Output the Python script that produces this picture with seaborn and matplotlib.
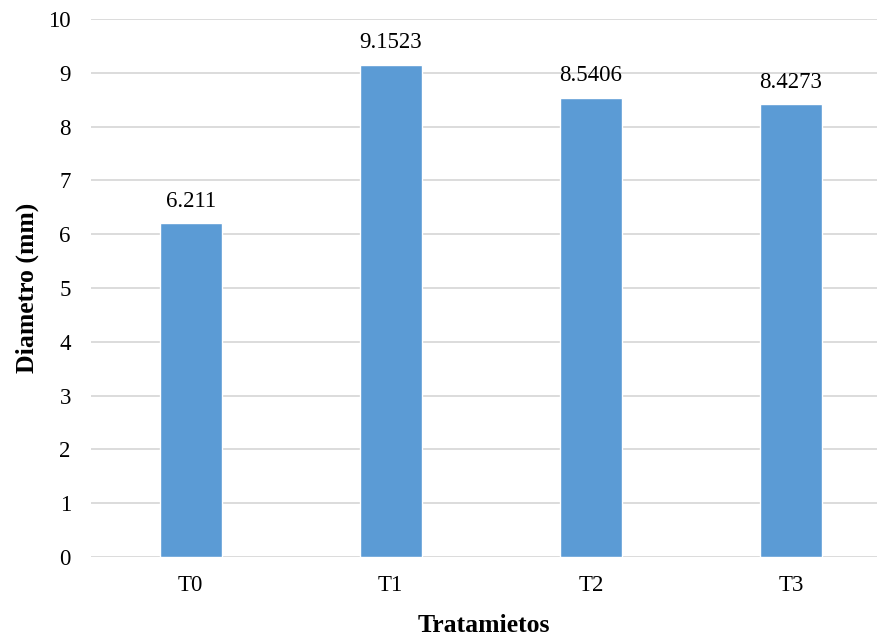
import matplotlib
matplotlib.use("Agg")
import matplotlib.pyplot as plt
import seaborn as sns
import pandas as pd

tratamientos = ["T0", "T1", "T2", "T3"]
diametro = [6.211, 9.1523, 8.5406, 8.4273]
etiquetas = ["6.211", "9.1523", "8.5406", "8.4273"]
y_ticks = [0, 1, 2, 3, 4, 5, 6, 7, 8, 9, 10]

sns.set_theme(style="white")
plt.rcParams["font.family"] = ["Liberation Serif", "DejaVu Serif"]

df = pd.DataFrame({"Tratamiento": tratamientos, "Diametro": diametro})

fig = plt.figure(figsize=(8.77, 6.37), dpi=100)
ax = fig.add_axes([91 / 877, 1 - 557 / 637, (877 - 91) / 877, (557 - 19) / 637])

sns.barplot(data=df, x="Tratamiento", y="Diametro", color="#5B9BD5",
            width=0.31, saturation=1, ax=ax, zorder=3)

for i, (v, t) in enumerate(zip(diametro, etiquetas)):
    ax.annotate(t, (i, v), xytext=(0, 8), textcoords="offset points",
                ha="center", va="bottom", fontsize=16.5, color="#000000")

ax.set_xlim(-0.4975, 3.43)
ax.set_ylim(0, 10)
ax.set_yticks(y_ticks)
ax.yaxis.grid(True, color="#d9d9d9", linewidth=1.3, zorder=0)
ax.xaxis.grid(False)
for s in ax.spines.values():
    s.set_visible(False)
ax.tick_params(axis="both", length=0, labelsize=16.5, colors="#000000")
ax.tick_params(axis="y", pad=14.5)
ax.tick_params(axis="x", pad=13)

ax.set_xlabel("Tratamietos", fontsize=18.5, fontweight="bold", labelpad=13,
              color="#000000")
ax.set_ylabel("Diametro (mm)", fontsize=18.5, fontweight="bold", labelpad=7,
              color="#000000")

fig.savefig("out.png", dpi=100)
